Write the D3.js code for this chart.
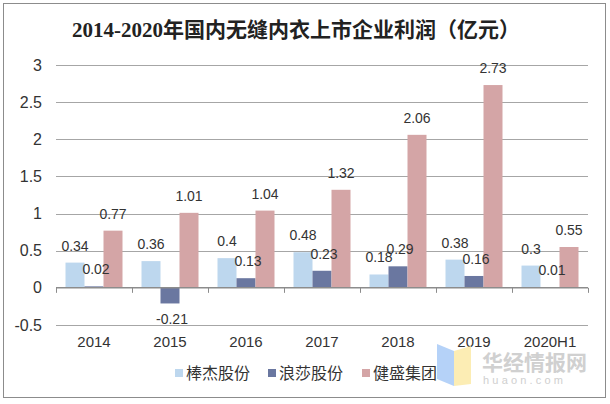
<!DOCTYPE html>
<html><head><meta charset="utf-8">
<script src="https://cdn.jsdelivr.net/npm/d3@7/dist/d3.min.js"></script>
<style>body{margin:0;background:#fff}svg{display:block}</style>
</head><body><svg id="c" width="610" height="404"></svg>
<script>
const categories = ["2014","2015","2016","2017","2018","2019","2020H1"];
const seriesNames = ["棒杰股份","浪莎股份","健盛集团"];
const bangjie = [0.34,0.36,0.4,0.48,0.18,0.38,0.3];
const langsha = [0.02,-0.21,0.13,0.23,0.29,0.16,0.01];
const jiansheng = [0.77,1.01,1.04,1.32,2.06,2.73,0.55];
const yTicks = [-0.5,0,0.5,1,1.5,2,2.5,3];
const colors = ["#BDD7EE","#6A77A0","#D4A5A6"];
const series = [bangjie, langsha, jiansheng];
const fmt = d => String(d);

const svg = d3.select("#c");
svg.append("rect").attr("x",3.5).attr("y",3.5).attr("width",602).attr("height",394)
  .attr("fill","#fff").attr("stroke","#8c8c8c").attr("stroke-width",1);

svg.append("text").attr("x",296).attr("y",37).attr("text-anchor","middle")
  .attr("font-family","'Liberation Serif','Noto Sans CJK SC',serif").attr("font-size",21).attr("font-weight","bold")
  .attr("fill","#222").text("2014-2020年国内无缝内衣上市企业利润（亿元）");

const x = d3.scaleBand().domain(categories).range([56,588]).paddingInner(0).paddingOuter(0);
const xs = d3.scaleBand().domain(d3.range(3)).range([0,x.bandwidth()]).paddingOuter(0.5).paddingInner(0);
const y = d3.scaleLinear().domain([-0.5,3]).range([325,65]);

// gridlines
svg.append("g").selectAll("line").data(yTicks.filter(d=>d!==0)).join("line")
  .attr("x1",56).attr("x2",588).attr("y1",d=>Math.round(y(d))+0.5).attr("y2",d=>Math.round(y(d))+0.5)
  .attr("stroke","#a6a6a6").attr("stroke-width",1);

// y labels
const yAxis = d3.axisLeft(y).tickValues(yTicks).tickSize(0).tickPadding(0).tickFormat(fmt);
const gy = svg.append("g").attr("transform","translate(42,0)").call(yAxis);
gy.select(".domain").remove();
gy.selectAll("text").attr("font-family","'Liberation Sans',Arial,sans-serif").attr("font-size",16).attr("fill","#333");

// bars
const groups = svg.append("g").selectAll("g").data(series).join("g").attr("fill",(d,i)=>colors[i]);
groups.each(function(vals, si){
  d3.select(this).selectAll("rect").data(vals).join("rect")
    .attr("x",(d,i)=>x(categories[i])+xs(si))
    .attr("width",xs.bandwidth())
    .attr("y",d=>y(Math.max(0,d)))
    .attr("height",d=>Math.abs(y(d)-y(0)));
});

// x axis
const xAxis = d3.axisBottom(x).tickSize(0).tickPadding(0);
const gx = svg.append("g").attr("transform",`translate(0,${y(0)})`).call(xAxis);
gx.select(".domain").remove();
gx.selectAll("text").attr("dy",0).attr("y",59).attr("font-family","'Liberation Sans',Arial,sans-serif").attr("font-size",15).attr("fill","#333");
svg.append("line").attr("x1",56).attr("x2",588).attr("y1",y(0)).attr("y2",y(0)).attr("stroke","#8c8c8c").attr("stroke-width",1.5);
const bounds = categories.map(c=>x(c)).concat([x(categories[categories.length-1])+x.bandwidth()]);
svg.append("g").selectAll("line").data(bounds).join("line")
  .attr("x1",d=>Math.round(d)+0.5).attr("x2",d=>Math.round(d)+0.5).attr("y1",y(0)).attr("y2",y(0)+5)
  .attr("stroke","#8c8c8c").attr("stroke-width",1);

// labels
series.forEach((vals, si)=>{
  svg.append("g").selectAll("text").data(vals).join("text")
    .attr("x",(d,i)=>x(categories[i])+xs(si)+xs.bandwidth()/2 + (si===1?2:0))
    .attr("y",d=> d>=0 ? y(d)-12 : y(d)+21)
    .attr("text-anchor","middle")
    .attr("font-family","'Liberation Sans',Arial,sans-serif").attr("font-size",14).attr("fill","#333")
    .text(fmt);
});

// legend
const lg = svg.append("g");
const lx = [175,268,362];
seriesNames.forEach((n,i)=>{
  lg.append("rect").attr("x",lx[i]).attr("y",369).attr("width",8).attr("height",8).attr("fill",colors[i]);
  lg.append("text").attr("x",lx[i]+11).attr("y",379).attr("font-family","'Noto Sans CJK SC',sans-serif")
    .attr("font-size",16).attr("fill","#333").text(n);
});

// watermark
const wm = svg.append("g").attr("opacity",0.85);
wm.append("path").attr("d","M437,344 L454,351 L454,386 L437,379 Z").attr("fill","#A9CBF7");
wm.append("path").attr("d","M454,351 L471,346 L471,384 L454,386 Z").attr("fill","#FCEBA8");
wm.append("text").attr("x",482).attr("y",370).attr("font-family","'Noto Sans CJK SC',sans-serif").attr("font-weight","bold")
  .attr("font-size",21).attr("fill","#c8c8c8").text("华经情报网");
wm.append("text").attr("x",483).attr("y",384).attr("font-family","'Liberation Sans',Arial,sans-serif")
  .attr("font-size",11).attr("letter-spacing",3.2).attr("fill","#c8c8c8").text("huaon.com");
</script></body></html>
